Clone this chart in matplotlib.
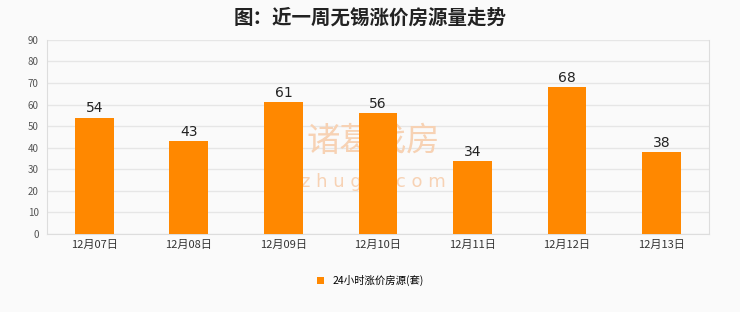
import matplotlib.pyplot as plt

plt.rcParams['font.family'] = ['Noto Sans CJK SC', 'DejaVu Sans']

dates = ['12月07日', '12月08日', '12月09日', '12月10日', '12月11日', '12月12日', '12月13日']
counts = [54, 43, 61, 56, 34, 68, 38]
series_name = '24小时涨价房源(套)'

bg = '#fafafa'
fig = plt.figure(figsize=(7.4, 3.12), dpi=100, facecolor=bg)
ax = fig.add_axes([0.0635, 0.25, 0.8945, 0.622], facecolor=bg)

x = range(len(dates))
bars = ax.bar(x, counts, width=0.41, color='#ff8800', label=series_name, zorder=3)
for xi, v in zip(x, counts):
    ax.text(xi, v + 1, str(v), ha='center', va='bottom', fontsize=10,
            family='DejaVu Sans', color='#222222', zorder=4)

ax.set_xlim(-0.5, len(dates) - 0.5)
ax.set_ylim(0, 90)
ax.set_yticks(range(0, 91, 10))
ax.set_xticks(list(x))
ax.set_xticklabels(dates, fontsize=8, color='#333333')
ax.tick_params(axis='y', labelsize=7, colors='#555555', length=0, pad=6)
ax.tick_params(axis='x', length=0, pad=4)
ax.grid(axis='y', color='#e6e6e6', linewidth=1, zorder=0)
for s in ax.spines.values():
    s.set_color('#dddddd')
ax.spines['top'].set_visible(False)

# watermark, behind the bars
ax.text(2.95, 43, '诸葛找房', ha='center', va='center', fontsize=24,
        color='#f7d2b4', zorder=2)
ax.text(2.95, 24, 'z h u g e . c o m', ha='center', va='center', fontsize=13,
        color='#f7d2b4', zorder=2, family='DejaVu Sans')

fig.suptitle('图：近一周无锡涨价房源量走势', y=0.975, fontsize=14, fontweight='bold', color='#222222')

fig.legend(loc='center', bbox_to_anchor=(0.5, 0.1), frameon=False, fontsize=7.5,
           handlelength=0.7, handleheight=0.7)

fig.savefig('out.png', dpi=100, facecolor=bg)
